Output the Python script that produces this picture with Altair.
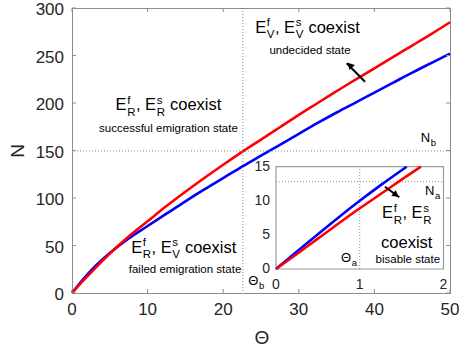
import altair as alt
import pandas as pd

# ---------------- data ----------------
theta = [0, 1, 2.5, 5, 7.5, 10, 12.5, 15, 17.5, 20, 22.5, 25, 27.5, 30, 32.5,
         35, 37.5, 40, 42.5, 45, 47.5, 50]
n_red = [0, 8.9, 21.5, 41.5, 59.5, 75.5, 91.5, 106.5, 121, 135, 148.5, 161.5,
         174.5, 187.5, 200, 212.5, 224.5, 236.5, 248.5, 260.5, 272.5, 285]
n_blue = [0, 10, 23.5, 42, 57.5, 70.5, 83.5, 96.5, 109, 121, 133, 144.5, 156,
          167.5, 179, 190, 200.5, 211, 221.5, 232, 242, 252]

theta_in_blue = [0, 0.25, 0.5, 0.75, 1.0, 1.25, 1.56]
n_in_blue = [0, 2.55, 5.1, 7.6, 10.0, 12.3, 15.0]
theta_in_red = [0, 0.25, 0.5, 0.75, 1.0, 1.25, 1.5, 1.73]
n_in_red = [0, 2.2, 4.45, 6.7, 8.9, 11.0, 13.1, 15.0]

x_ticks = [0, 10, 20, 30, 40, 50]
y_ticks = [0, 50, 100, 150, 200, 250, 300]
x_ticks_in = [0, 1, 2]
y_ticks_in = [0, 5, 10, 15]

theta_b = 22.6
n_b = 149.5
theta_a = 1.0
n_a = 12.8

# ---------------- styling ----------------
FONT = "Liberation Sans"
W_PX, H_PX = 378, 285
XS = alt.Scale(domain=[0, 50], nice=False, zero=False)
YS = alt.Scale(domain=[0, 300], nice=False, zero=False)
XS_IN = alt.Scale(domain=[0, 2], range=[204, 371.5], nice=False, zero=False)
YS_IN = alt.Scale(domain=[0, 15], range=[261, 158.7], nice=False, zero=False)
GRAY = "#8c8c8c"
DOT = "#8a8a8a"
LABEL = "#262626"

ADV = {'E': 667, 'R': 722, 'V': 667, 'N': 722, 'f': 278, 's': 500, 'a': 556,
       'b': 556, 'c': 500, 'o': 556, 'e': 556, 'x': 500, 'i': 222, 't': 278,
       ' ': 278, ',': 278, 'Θ': 778}


def tw(s, size):
    return sum(ADV.get(c, 556) for c in s) * size / 1000.0


def piece(text, x, y, dx, dy, size, xs, ys, align="left"):
    df = pd.DataFrame({"x": [x], "y": [y], "t": [text]})
    return alt.Chart(df).mark_text(
        align=align, baseline="alphabetic", dx=dx, dy=dy, fontSize=size,
        font=FONT, color="black"
    ).encode(
        x=alt.X("x:Q", scale=xs, axis=None),
        y=alt.Y("y:Q", scale=ys, axis=None),
        text="t:N",
    )


def rich(tokens, x, y, F, S, xs, ys, sup_dy=-6.5, sub_dy=5.5, anchor="center"):
    widths = []
    for t in tokens:
        if isinstance(t, tuple):
            widths.append(max(tw(t[0], S), tw(t[1], S)) + 1.0)
        else:
            widths.append(tw(t, F))
    total = sum(widths)
    cur = -total / 2.0 if anchor == "center" else 0.0
    out = []
    for t, w in zip(tokens, widths):
        if isinstance(t, tuple):
            if t[0]:
                out.append(piece(t[0], x, y, cur + 0.6, sup_dy, S, xs, ys))
            if t[1]:
                out.append(piece(t[1], x, y, cur + 0.6, sub_dy, S, xs, ys))
        elif t.strip():
            out.append(piece(t, x, y, cur, 0, F, xs, ys))
        cur += w
    return out


def arrow(tail, tip, head, angle, xs, ys):
    df = pd.DataFrame({"x": [tail[0]], "y": [tail[1]], "x2": [tip[0]], "y2": [tip[1]]})
    shaft = alt.Chart(df).mark_rule(color="black", strokeWidth=2).encode(
        x=alt.X("x:Q", scale=xs, axis=None), y=alt.Y("y:Q", scale=ys, axis=None),
        x2="x2:Q", y2="y2:Q")
    hd = pd.DataFrame({"x": [head[0]], "y": [head[1]]})
    tri = alt.Chart(hd).mark_point(shape="triangle-up", filled=True, size=55,
                                   angle=angle, color="black", opacity=1).encode(
        x=alt.X("x:Q", scale=xs, axis=None), y=alt.Y("y:Q", scale=ys, axis=None))
    return [shaft, tri]


# ---------------- main panel ----------------
blue_main = alt.Chart(pd.DataFrame({"theta": theta, "N": n_blue})).mark_line(
    color="#0000ff", strokeWidth=2.6, interpolate="monotone").encode(
    x=alt.X("theta:Q", scale=XS, axis=None),
    y=alt.Y("N:Q", scale=YS, axis=None),
)
red_main = alt.Chart(pd.DataFrame({"theta": theta, "N": n_red})).mark_line(
    color="#ff0000", strokeWidth=2.6, interpolate="monotone").encode(
    x=alt.X("theta:Q", scale=XS, axis=None),
    y=alt.Y("N:Q", scale=YS, axis=None),
)

# inside ticks
xt = pd.DataFrame({"v": x_ticks})
yt = pd.DataFrame({"v": y_ticks})
tick_layers = [
    alt.Chart(xt).mark_rule(color=GRAY, strokeWidth=1).encode(
        x=alt.X("v:Q", scale=XS, axis=None), y=alt.value(H_PX), y2=alt.value(H_PX - 4)),
    alt.Chart(xt).mark_rule(color=GRAY, strokeWidth=1).encode(
        x=alt.X("v:Q", scale=XS, axis=None), y=alt.value(0), y2=alt.value(4)),
    alt.Chart(yt).mark_rule(color=GRAY, strokeWidth=1).encode(
        y=alt.Y("v:Q", scale=YS, axis=None), x=alt.value(0), x2=alt.value(4)),
    alt.Chart(yt).mark_rule(color=GRAY, strokeWidth=1).encode(
        y=alt.Y("v:Q", scale=YS, axis=None), x=alt.value(W_PX), x2=alt.value(W_PX - 4)),
]

# axis labels and titles
axis_text = [
    alt.Chart(xt).mark_text(font=FONT, fontSize=17, color=LABEL, align="center",
                            baseline="middle").encode(
        x=alt.X("v:Q", scale=XS, axis=None), y=alt.value(H_PX + 17), text="v:Q"),
    alt.Chart(yt).mark_text(font=FONT, fontSize=17, color=LABEL, align="right",
                            baseline="middle", dy=2).encode(
        y=alt.Y("v:Q", scale=YS, axis=None), x=alt.value(-8), text="v:Q"),
    alt.Chart(pd.DataFrame({"t": ["Θ"]})).mark_text(
        font=FONT, fontSize=19, color=LABEL, align="center", baseline="middle").encode(
        x=alt.value(190), y=alt.value(330), text="t:N"),
    alt.Chart(pd.DataFrame({"t": ["N"]})).mark_text(
        font=FONT, fontSize=19, color=LABEL, align="center", baseline="middle",
        angle=270).encode(
        x=alt.value(-54), y=alt.value(143), text="t:N"),
]

dotted_main = [
    alt.Chart(pd.DataFrame({"v": [theta_b]})).mark_rule(
        color=DOT, strokeWidth=1, strokeDash=[1, 2]).encode(
        x=alt.X("v:Q", scale=XS, axis=None)),
    alt.Chart(pd.DataFrame({"v": [n_b]})).mark_rule(
        color=DOT, strokeWidth=1, strokeDash=[1, 2]).encode(
        y=alt.Y("v:Q", scale=YS, axis=None)),
]

F, S = 16.5, 11.5
main_text = []
main_text += rich(["E", ("f", "R"), ",", " ", "E", ("s", "R"), " ", "coexist"],
                  12.76, 192.6, F, S, XS, YS)
main_text.append(piece("successful emigration state", 12.76, 169.8, 0, 0, 11.5, XS, YS, align="center"))
main_text += rich(["E", ("f", "V"), ",", " ", "E", ("s", "V"), " ", "coexist"],
                  31.15, 273.7, F, S, XS, YS)
main_text.append(piece("undecided state", 31.48, 251.3, 0, 0, 11.5, XS, YS, align="center"))
main_text += rich(["E", ("f", "R"), ",", " ", "E", ("s", "V"), " ", "coexist"],
                  14.78, 42.4, F, S, XS, YS)
main_text.append(piece("failed emigration state", 14.95, 20.7, 0, 0, 11.5, XS, YS, align="center"))
main_text += rich(["N", ("", "b")], 46.12, 159.3, 13, 9.5, XS, YS, sub_dy=4, anchor="left")
main_text += rich(["Θ", ("", "b")], 23.32, 8.4, 13, 9.5, XS, YS, sub_dy=4, anchor="left")
main_text += arrow((38.76, 222.4), (36.34, 241.8), (36.77, 239.8), 316.7, XS, YS)

main = alt.layer(blue_main, red_main, *dotted_main, *tick_layers, *axis_text, *main_text)

# ---------------- inset panel ----------------
box = alt.Chart(pd.DataFrame({"x": [0], "x2": [2], "y": [0], "y2": [15]})).mark_rect(
    fill="white", stroke="#9a9a9a", strokeWidth=1.2).encode(
    x=alt.X("x:Q", scale=XS_IN, axis=None), x2="x2:Q",
    y=alt.Y("y:Q", scale=YS_IN, axis=None), y2="y2:Q")

dot_in = [
    alt.Chart(pd.DataFrame({"x": [theta_a], "y": [0], "y2": [15]})).mark_rule(
        color=DOT, strokeWidth=1, strokeDash=[1, 2]).encode(
        x=alt.X("x:Q", scale=XS_IN, axis=None),
        y=alt.Y("y:Q", scale=YS_IN, axis=None), y2="y2:Q"),
    alt.Chart(pd.DataFrame({"y": [n_a], "x": [0], "x2": [2]})).mark_rule(
        color=DOT, strokeWidth=1, strokeDash=[1, 2]).encode(
        y=alt.Y("y:Q", scale=YS_IN, axis=None),
        x=alt.X("x:Q", scale=XS_IN, axis=None), x2="x2:Q"),
]

blue_in = alt.Chart(pd.DataFrame({"t": theta_in_blue, "n": n_in_blue})).mark_line(
    color="#0000ff", strokeWidth=2.6, interpolate="monotone").encode(
    x=alt.X("t:Q", scale=XS_IN, axis=None), y=alt.Y("n:Q", scale=YS_IN, axis=None))
red_in = alt.Chart(pd.DataFrame({"t": theta_in_red, "n": n_in_red})).mark_line(
    color="#ff0000", strokeWidth=2.6, interpolate="monotone").encode(
    x=alt.X("t:Q", scale=XS_IN, axis=None), y=alt.Y("n:Q", scale=YS_IN, axis=None))

ticklab_in = [
    alt.Chart(pd.DataFrame({"v": x_ticks_in})).mark_text(
        font=FONT, fontSize=14, color=LABEL, baseline="middle", align="center").encode(
        x=alt.X("v:Q", scale=XS_IN, axis=None), y=alt.value(277), text="v:Q"),
    alt.Chart(pd.DataFrame({"v": y_ticks_in})).mark_text(
        font=FONT, fontSize=14, color=LABEL, baseline="middle", align="right").encode(
        y=alt.Y("v:Q", scale=YS_IN, axis=None), x=alt.value(198), text="v:Q"),
]

inset_text = []
inset_text += rich(["E", ("f", "R"), ",", " ", "E", ("s", "R")], 1.564, 7.43, F, S, XS_IN, YS_IN)
inset_text.append(piece("coexist", 1.561, 3.04, 0, 0, F, XS_IN, YS_IN, align="center"))
inset_text.append(piece("bisable state", 1.574, 0.84, 0, 0, 11.5, XS_IN, YS_IN, align="center"))
inset_text += rich(["N", ("", "a")], 1.779, 10.85, 13, 9.5, XS_IN, YS_IN, sub_dy=4, anchor="left")
inset_text += rich(["Θ", ("", "a")], 0.776, 1.07, 13, 9.5, XS_IN, YS_IN, sub_dy=4, anchor="left")
inset_text += arrow((1.301, 12.07), (1.472, 10.51), (1.434, 10.87), 126.5, XS_IN, YS_IN)

inset = alt.layer(box, *dot_in, blue_in, red_in, *ticklab_in, *inset_text)

chart = alt.layer(main, inset).resolve_scale(
    x="independent", y="independent"
).properties(
    width=W_PX, height=H_PX,
    autosize=alt.AutoSizeParams(type="none"),
    padding={"left": 72, "top": 8, "right": 9, "bottom": 59},
    background="white",
).configure_view(stroke=GRAY, strokeWidth=1)

chart.save("out.html", embed_options={"renderer": "svg", "actions": False})
